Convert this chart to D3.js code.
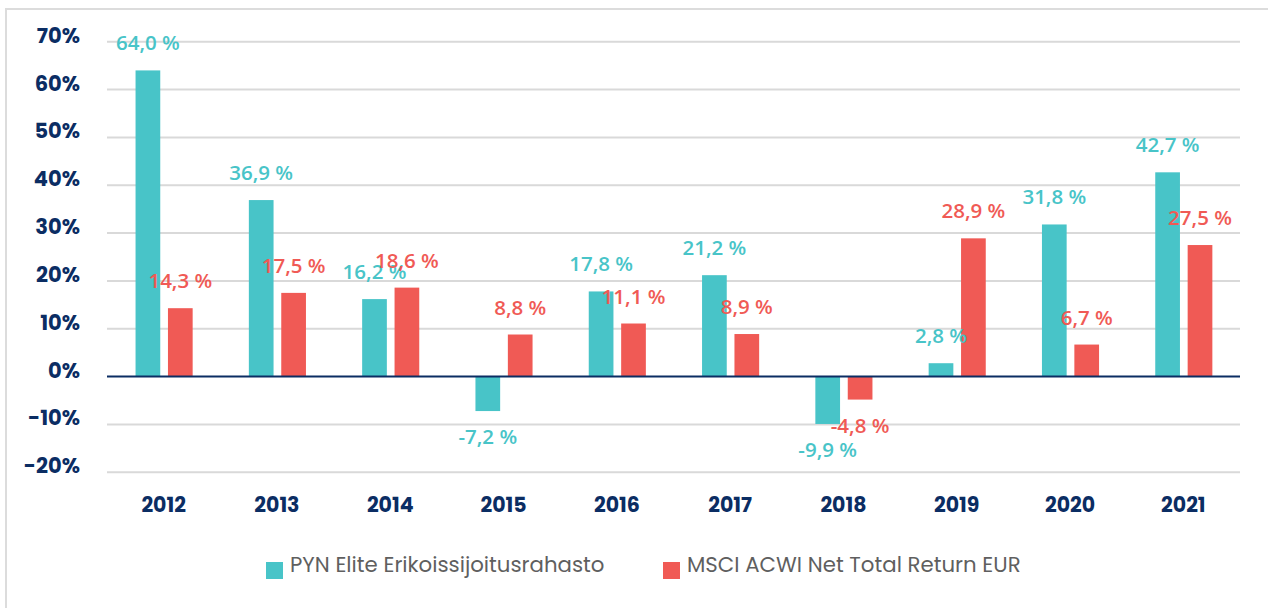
<!DOCTYPE html>
<html><head><meta charset="utf-8">
<script src="https://cdn.jsdelivr.net/npm/d3@7"></script>
<style>
html,body{margin:0;padding:0;background:#fff;}
svg{display:block;}
</style></head>
<body>
<svg id="chart" width="1268" height="608"></svg>
<script>
const years = ["2012","2013","2014","2015","2016","2017","2018","2019","2020","2021"];
const pynValues = [64.0, 36.9, 16.2, -7.2, 17.8, 21.2, -9.9, 2.8, 31.8, 42.7];
const msciValues = [14.3, 17.5, 18.6, 8.8, 11.1, 8.9, -4.8, 28.9, 6.7, 27.5];
const yTicks = [70, 60, 50, 40, 30, 20, 10, 0, -10, -20];
const seriesNames = ["PYN Elite Erikoissijoitusrahasto", "MSCI ACWI Net Total Return EUR"];
const colors = ["#48C4C8", "#F05A55"];

const svg = d3.select("#chart");
const W = 1268, H = 608;

// frame
svg.append("path")
  .attr("d", `M6,${H+5} L6,9 L${W+5},9`)
  .attr("fill","none").attr("stroke","#dcdcdc").attr("stroke-width",2);

const x0 = 107, x1 = 1240;
const y = d3.scaleLinear().domain([-20, 70]).range([472.3, 41.7]);
const x = d3.scaleBand().domain(years).range([x0, x1]).paddingInner(0).paddingOuter(0);
const bw = x.bandwidth();

// grid
svg.append("g").selectAll("line").data(yTicks.filter(t => t !== 0)).join("line")
  .attr("x1", x0).attr("x2", x1)
  .attr("y1", d => y(d)).attr("y2", d => y(d))
  .attr("stroke", "#d9d9d9").attr("stroke-width", 2);

// y labels
svg.append("g").selectAll("text").data(yTicks).join("text")
  .attr("x", 80).attr("y", d => y(d) + 1)
  .attr("text-anchor", "end")
  .attr("font-family", "Poppins, 'Open Sans', sans-serif")
  .attr("font-weight", 700).attr("font-size", 21)
  .attr("fill", "#0b2d63")
  .text(d => d + "%");

// bars
const barW = 0.218 * bw;
const series = [pynValues, msciValues];
series.forEach((vals, si) => {
  const off = 0.252 * bw + si * 0.286 * bw;
  const g = svg.append("g");
  g.selectAll("rect").data(vals).join("rect")
    .attr("x", (d, i) => x(years[i]) + off)
    .attr("width", barW)
    .attr("y", d => y(Math.max(0, d)))
    .attr("height", d => Math.abs(y(d) - y(0)))
    .attr("fill", colors[si]);
});

// zero line
svg.append("line").attr("x1", x0).attr("x2", x1)
  .attr("y1", y(0)).attr("y2", y(0))
  .attr("stroke", "#0b2d63").attr("stroke-width", 2);

// value labels
series.forEach((vals, si) => {
  const off = 0.252 * bw + si * 0.286 * bw + barW / 2;
  svg.append("g").selectAll("text").data(vals).join("text")
    .attr("x", (d, i) => x(years[i]) + off)
    .attr("y", d => d >= 0 ? y(d) - 20 : y(d) + 33)
    .attr("text-anchor", "middle")
    .attr("font-family", "'Open Sans', sans-serif")
    .attr("font-weight", 600)
    .attr("font-size", 20.5)
    .attr("fill", colors[si])
    .text(d => d.toFixed(1).replace(".", ",") + " %");
});

// x labels
svg.append("g").selectAll("text").data(years).join("text")
  .attr("x", d => x(d) + bw / 2).attr("y", 512)
  .attr("text-anchor", "middle")
  .attr("font-family", "Poppins, 'Open Sans', sans-serif")
  .attr("font-weight", 700).attr("font-size", 20.5)
  .attr("fill", "#0b2d63")
  .text(d => d);

// legend
const legendX = [266, 663];
seriesNames.forEach((n, i) => {
  svg.append("rect").attr("x", legendX[i]).attr("y", 562).attr("width", 17).attr("height", 17).attr("fill", colors[i]);
  svg.append("text").attr("x", legendX[i] + 24).attr("y", 572)
    .attr("font-family", "Poppins, 'Open Sans', sans-serif")
    .attr("font-weight", 400).attr("font-size", 21.3)
    .attr("fill", "#5f5f5f")
    .text(n);
});
</script>
</body></html>
